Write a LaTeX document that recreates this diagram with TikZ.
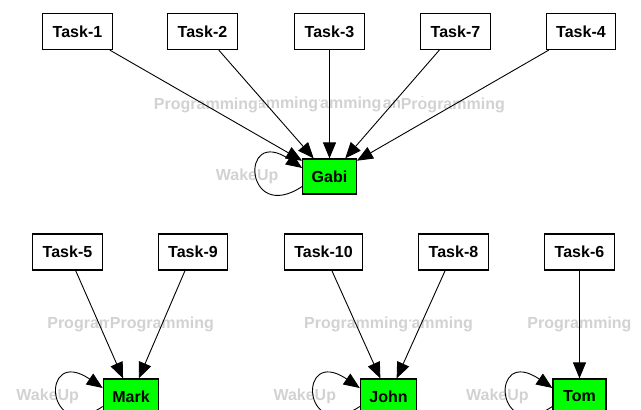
\documentclass[tikz,border=0pt]{standalone}
\usepackage{fontspec}
\setmainfont{Liberation Sans}
\usetikzlibrary{arrows.meta,calc}
\definecolor{lblgray}{RGB}{210,210,213}
\definecolor{nodegreen}{RGB}{0,255,0}
\begin{document}
\begin{tikzpicture}[x=1pt,y=-1pt,
  every node/.style={font=\fontsize{16}{19}\selectfont\bfseries},
  task/.style={draw=black,line width=1.2pt,fill=white,minimum height=36pt,inner xsep=10pt,inner ysep=0pt},
  person/.style={draw=black,line width=1.2pt,fill=nodegreen,minimum height=35pt,minimum width=53pt,inner xsep=9pt,inner ysep=0pt},
  lbl/.style={text=lblgray,fill=white,inner sep=1pt},
  wake/.style={text=lblgray,inner sep=0pt},
  conn/.style={line width=0.9pt,-{Triangle[length=16pt,width=13pt]}},
]
\useasboundingbox (0,0) rectangle (641,410);
\begin{scope}
\clip (0,0) rectangle (641,410);
% top row
\node[task] (t1) at (77.5,31.5) {Task-1};
\node[task] (t2) at (202.5,31.5) {Task-2};
\node[task] (t3) at (329.5,31.5) {Task-3};
\node[task] (t7) at (455.5,31.5) {Task-7};
\node[task] (t4) at (581,31.5) {Task-4};
\node[person] (gabi) at (329.5,176.5) {Gabi};
% bottom row
\node[task] (t5) at (67.5,252) {Task-5};
\node[task] (t9) at (193,252) {Task-9};
\node[task] (t10) at (323.5,252) {Task-10};
\node[task] (t8) at (453.5,252) {Task-8};
\node[task] (t6) at (579.5,252) {Task-6};
\node[person] (mark) at (131,396.5) {Mark};
\node[person] (john) at (388.5,396.5) {John};
\node[person] (tom) at (579.5,396.5) {Tom};
% edge labels (later ones cover earlier ones)
\path (t7) -- (gabi) node[midway,lbl] {Programming};
\path (t3) -- (gabi) node[midway,lbl] {Programming};
\path (t2) -- (gabi) node[midway,lbl] {Programming};
\path (t1) -- (gabi) node[midway,lbl] {Programming};
\path (t4) -- (gabi) node[midway,lbl] {Programming};
\path (t5) -- (mark) node[midway,lbl] {Programming};
\path (t9) -- (mark) node[midway,lbl] {Programming};
\path (t8) -- (john) node[midway,lbl] {Programming};
\path (t10) -- (john) node[midway,lbl] {Programming};
\path (t6) -- (tom) node[midway,lbl] {Programming};
% self-loop labels
\foreach \n in {gabi,mark,john,tom}{
  \node[wake] (w\n) at ($(\n.west)+(-55,0)$) {WakeUp};
}
% edges
\draw[conn] (t1) -- (gabi);
\draw[conn] (t2) -- (gabi);
\draw[conn] (t3) -- (gabi);
\draw[conn] (t7) -- (gabi);
\draw[conn] (t4) -- (gabi);
\draw[conn] (t5) -- (mark);
\draw[conn] (t9) -- (mark);
\draw[conn] (t10) -- (john);
\draw[conn] (t8) -- (john);
\draw[conn] (t6) -- (tom);
% self loops
\foreach \n in {gabi,mark,john,tom}{
  \draw[conn] ($(\n.west)+(0,10)$) .. controls ($(\n.west)+(-58,48.5)$) and ($(\n.west)+(-63,-51.5)$) .. ($(\n.west)+(0,-8.5)$);
}
\end{scope}
\end{tikzpicture}
\end{document}
